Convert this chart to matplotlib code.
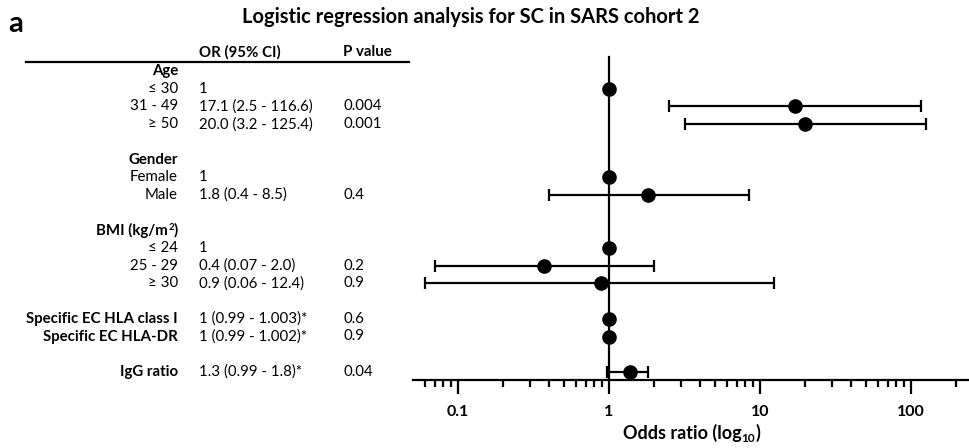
import numpy as np
import matplotlib
matplotlib.use('Agg')
import matplotlib.pyplot as plt
import matplotlib.transforms as mtransforms
from matplotlib.ticker import LogLocator, NullFormatter, FixedLocator, FixedFormatter

plt.rcParams['font.family'] = ['Lato', 'DejaVu Sans']

# ---- data ----
groups = ['Age', 'Gender']
group_rows = [-1, 4]
bmi_row = 8

labels = ['\u2264 30', '31 - 49', '\u2265 50', 'Female', 'Male',
          '\u2264 24', '25 - 29', '\u2265 30',
          'Specific EC HLA class I', 'Specific EC HLA-DR', 'IgG ratio']
label_bold = [False, False, False, False, False, False, False, False, True, True, True]
rows = [0, 1, 2, 5, 6, 9, 10, 11, 13, 14, 16]
or_text = ['1', '17.1 (2.5 - 116.6)', '20.0 (3.2 - 125.4)', '1', '1.8 (0.4 - 8.5)',
           '1', '0.4 (0.07 - 2.0)', '0.9 (0.06 - 12.4)',
           '1 (0.99 - 1.003)*', '1 (0.99 - 1.002)*', '1.3 (0.99 - 1.8)*']
p_text = ['', '0.004', '0.001', '', '0.4', '', '0.2', '0.9', '0.6', '0.9', '0.04']

odds = [1, 17.1, 20.0, 1, 1.8, 1, 0.37, 0.89, 1, 1, 1.37]
ci_lo = [1, 2.5, 3.2, 1, 0.4, 1, 0.07, 0.06, 0.99, 0.99, 0.97]
ci_hi = [1, 116.6, 125.4, 1, 8.5, 1, 2.0, 12.4, 1.003, 1.002, 1.8]

# ---- figure ----
W, H = 970, 448
fig = plt.figure(figsize=(W / 100, H / 100), dpi=100)
renderer = fig.canvas.get_renderer()

def fx(px):
    return px / W

def fy(py):
    return 1 - py / H

ax_left, ax_right = 413, 970
ax_top, ax_bot = 40, 380
ax = fig.add_axes([fx(ax_left), fy(ax_bot), fx(ax_right - ax_left), (ax_bot - ax_top) / H])

row0, row_h = 88.7, 17.7
def prow(py):
    return (py - row0) / row_h

ax.set_xscale('log')
ax.set_xlim(10 ** ((ax_left - 609) / 151), 10 ** ((ax_right - 609) / 151))
ax.set_ylim(prow(ax_bot), prow(ax_top))

odds = np.array(odds)
lo = odds - np.array(ci_lo)
hi = np.array(ci_hi) - odds
ax.axvline(1, ymin=0, ymax=(prow(ax_bot) - prow(57)) / (prow(ax_bot) - prow(ax_top)),
           color='black', lw=1.6, zorder=1)
ax.errorbar(odds, rows, xerr=[lo, hi], fmt='o', color='black', ms=9.5,
            elinewidth=1.6, capsize=4.5, capthick=1.6, zorder=3)

for s in ['top', 'right', 'left']:
    ax.spines[s].set_visible(False)
ax.spines['bottom'].set_linewidth(1.6)
ax.set_yticks([])
ax.xaxis.set_major_locator(FixedLocator([0.1, 1, 10, 100]))
ax.xaxis.set_major_formatter(FixedFormatter(['0.1', '1', '10', '100']))
ax.xaxis.set_minor_locator(LogLocator(base=10, subs=np.arange(2, 10)))
ax.xaxis.set_minor_formatter(NullFormatter())
ax.tick_params(axis='x', which='major', length=10, width=1.6, pad=8, labelsize=11.5)
ax.tick_params(axis='x', which='minor', length=5, width=1.6)
for t in ax.get_xticklabels():
    t.set_fontweight('bold')


def pieces(x_px, y_px, parts, size, align='center'):
    # parts: (text, scale, raise_px); drawn in bold, side by side
    widths = []
    for txt, sc, dy in parts:
        t = fig.text(0, 0, txt, fontsize=size * sc, fontweight='bold')
        widths.append(t.get_window_extent(renderer).width)
        t.remove()
    total = sum(widths)
    x0 = x_px - total / 2 if align == 'center' else x_px - total
    for (txt, sc, dy), w in zip(parts, widths):
        fig.text(fx(x0), fy(y_px - dy), txt, fontsize=size * sc, fontweight='bold',
                 ha='left', va='baseline')
        x0 += w


# x label with subscript
pieces((ax_left + ax_right) / 2, 439, [('Odds ratio (log', 1, 0), ('10', 0.65, -3), (')', 1, 0)], 13)

# ---- table text ----
tr = mtransforms.blended_transform_factory(fig.transFigure, ax.transData)
fs = 10.8
for g, r in zip(groups, group_rows):
    fig.text(fx(178), r, g, transform=tr, ha='right', va='center', fontsize=fs, fontweight='bold')
bmi_y = row0 + bmi_row * row_h + 4.5
pieces(178, bmi_y, [('BMI (kg/m', 1, 0), ('2', 0.65, 5), (')', 1, 0)], fs, align='right')

for lab, b, r, o, p in zip(labels, label_bold, rows, or_text, p_text):
    fig.text(fx(178), r, lab, transform=tr, ha='right', va='center', fontsize=fs,
             fontweight='bold' if b else 'normal')
    fig.text(fx(199), r, o, transform=tr, ha='left', va='center', fontsize=fs)
    fig.text(fx(343), r, p, transform=tr, ha='left', va='center', fontsize=fs)

fig.text(fx(199), fy(52), 'OR (95% CI)', ha='left', va='center', fontsize=fs, fontweight='bold')
fig.text(fx(343), fy(52), 'P value', ha='left', va='center', fontsize=fs, fontweight='bold')
fig.add_artist(plt.Line2D([fx(26), fx(409)], [fy(62), fy(62)], color='black', lw=1.6))

fig.text(fx(471), fy(17), 'Logistic regression analysis for SC in SARS cohort 2',
         ha='center', va='center', fontsize=14.5, fontweight='bold')
fig.text(fx(8), fy(24), 'a', ha='left', va='center', fontsize=21, fontweight='bold')

fig.savefig('out.png', dpi=100)
